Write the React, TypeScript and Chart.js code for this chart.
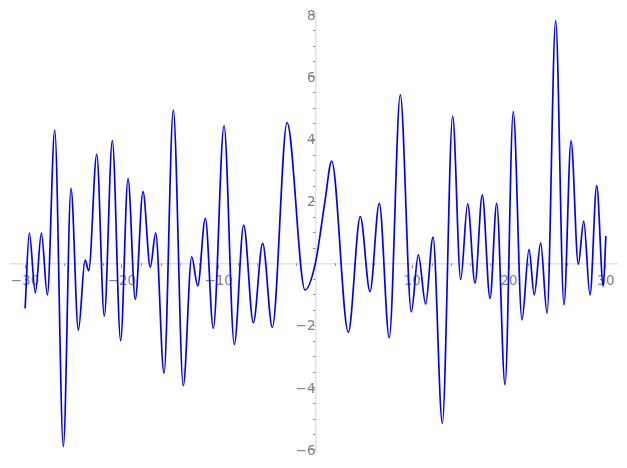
import React, { useEffect, useRef } from "react";
import { Chart, registerables } from "chart.js";

Chart.register(...registerables);

// Curve samples (local extrema and a few shape points)
const xValues = [
  -30, -29.57, -28.94, -28.32, -27.7, -26.94, -26.05, -25.26, -24.5, -23.8,
  -23.43, -22.6, -21.82, -20.99, -20.13, -19.37, -18.62, -17.82, -17.07, -16.51,
  -15.65, -14.69, -13.66, -12.79, -12.17, -11.38, -10.56, -9.45, -8.39, -7.42,
  -6.42, -5.46, -4.46, -2.94, -1.08, 0, 0.98, 1.67, 3.39, 4.63,
  5.63, 6.59, 7.62, 8.76, 9.9, 10.62, 11.38, 12.14, 13.1, 14.17,
  15.0, 15.72, 16.48, 17.23, 18.03, 18.72, 19.58, 20.43, 21.33, 22.06,
  22.6, 23.26, 23.92, 24.81, 25.67, 26.4, 27.15, 27.71, 28.36, 29.05,
  29.73, 30,
];
const yValues = [
  -1.45, 0.97, -0.95, 0.97, -1.02, 4.29, -5.9, 2.41, -2.15, 0.1,
  -0.24, 3.51, -1.7, 3.95, -2.49, 2.73, -1.16, 2.31, -0.13, 0.97,
  -3.54, 4.93, -3.94, 0.21, -0.73, 1.45, -2.09, 4.42, -2.61, 1.23,
  -1.91, 0.64, -2.06, 4.53, -0.86, 0.02, 2.0, 3.29, -2.22, 1.5,
  -0.91, 1.93, -2.39, 5.42, -1.56, 0.27, -1.31, 0.84, -5.15, 4.74,
  -0.52, 1.91, -0.64, 2.2, -1.13, 1.93, -3.91, 4.88, -1.82, 0.45,
  -1.02, 0.66, -1.61, 7.81, -1.34, 3.94, -0.03, 1.36, -1.02, 2.5,
  -0.74, 0.88,
];

// Tick labels
const xMajorTicks = [-30, -20, -10, 10, 20, 30];
const yMajorTicks = [-6, -4, -2, 2, 4, 6, 8];
const xMinorStep = 2;
const yMinorStep = 0.5;

const LABEL_COLOR = "#808080";
const TICK_COLOR = "#8c8c8c";
const AXIS_COLOR = "#e3e3e3";

const fmt = (v: number) => (v < 0 ? "\u2212" + Math.abs(v) : String(v));

const minorTicksPlugin = {
  id: "minorTicks",
  beforeDatasetsDraw(chart: any) {
    const { ctx } = chart;
    const xs = chart.scales.x;
    const ys = chart.scales.y;
    const axisY = ys.getPixelForValue(0);
    const axisX = xs.getPixelForValue(0);
    ctx.save();
    ctx.strokeStyle = TICK_COLOR;
    ctx.lineWidth = 1;
    ctx.beginPath();
    for (let v = -30; v <= 30; v += xMinorStep) {
      if (v === 0 || v % 10 === 0) continue;
      const px = Math.round(xs.getPixelForValue(v)) + 0.5;
      ctx.moveTo(px, axisY);
      ctx.lineTo(px, axisY + 2.5);
    }
    for (let v = -6; v <= 8.001; v += yMinorStep) {
      if (Math.abs(v) < 1e-9 || Math.abs(v % 2) < 1e-9) continue;
      const py = Math.round(ys.getPixelForValue(v)) + 0.5;
      ctx.moveTo(axisX, py);
      ctx.lineTo(axisX - 2.5, py);
    }
    ctx.stroke();
    ctx.restore();
  },
};

export default function App() {
  const ref = useRef<HTMLCanvasElement | null>(null);

  useEffect(() => {
    if (!ref.current) return;
    const data = xValues.map((x, i) => ({ x, y: yValues[i] }));
    const chart = new Chart(ref.current, {
      type: "line",
      data: {
        datasets: [
          {
            data,
            borderColor: "#0000ff",
            borderWidth: 1.7,
            pointRadius: 0,
            cubicInterpolationMode: "monotone",
            fill: false,
          },
        ],
      },
      options: {
        animation: false,
        responsive: false,
        devicePixelRatio: 1,
        layout: {
          autoPadding: false,
          padding: { left: 10.6, right: 9.5, top: 13.2, bottom: 15.2 },
        },
        plugins: {
          legend: { display: false },
          tooltip: { enabled: false },
        },
        scales: {
          x: {
            type: "linear",
            position: { y: 0 },
            min: -31.5,
            max: 31.2,
            afterBuildTicks: (scale: any) => {
              scale.ticks = xMajorTicks.map((v) => ({ value: v }));
            },
            ticks: {
              autoSkip: false,
              maxRotation: 0,
              color: LABEL_COLOR,
              font: { family: "DejaVu Sans", size: 13.5 },
              padding: 6.5,
              callback: (v: any) => fmt(Number(v)),
            },
            grid: {
              drawOnChartArea: false,
              drawTicks: true,
              tickLength: 4,
              tickColor: TICK_COLOR,
            },
            border: { color: AXIS_COLOR, width: 1.5 },
          },
          y: {
            type: "linear",
            position: { x: 0 },
            min: -6.1,
            max: 8.05,
            afterBuildTicks: (scale: any) => {
              scale.ticks = yMajorTicks.map((v) => ({ value: v }));
            },
            ticks: {
              autoSkip: false,
              color: LABEL_COLOR,
              font: { family: "DejaVu Sans", size: 13.5 },
              padding: 5,
              labelOffset: 1.5,
              callback: (v: any) => fmt(Number(v)),
            },
            grid: {
              drawOnChartArea: false,
              drawTicks: true,
              tickLength: 4,
              tickColor: TICK_COLOR,
            },
            border: { color: AXIS_COLOR, width: 1.5 },
          },
        },
      },
      plugins: [minorTicksPlugin],
    } as any);
    return () => chart.destroy();
  }, []);

  return (
    <div style={{ position: "absolute", left: 0, top: 0, width: 627, height: 468 }}>
      <canvas ref={ref} width={627} height={468} style={{ width: 627, height: 468 }} />
    </div>
  );
}
